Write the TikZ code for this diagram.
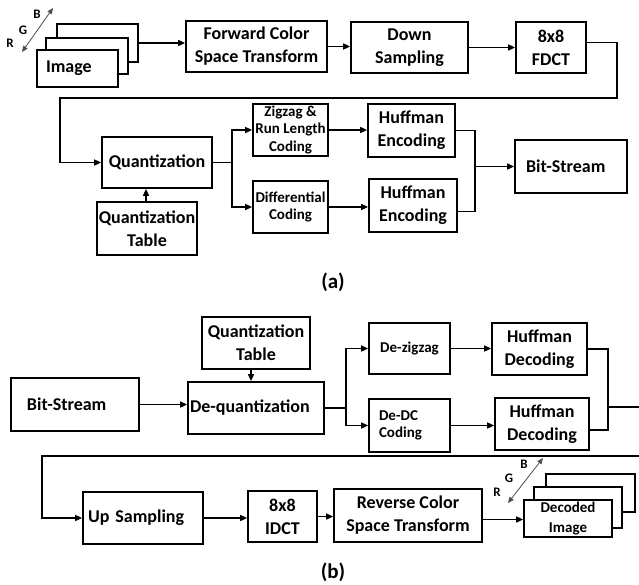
\documentclass[tikz,border=0pt]{standalone}
\usepackage{fontspec}
\setmainfont{Carlito}
\usetikzlibrary{arrows.meta}
\begin{document}
\begin{tikzpicture}[x=1pt,y=-1pt,
  box/.style={draw, line width=1.7pt, fill=white, inner sep=0pt, align=center,
    font=\bfseries\fontsize{18}{23}\selectfont},
  sbox/.style={box, font=\bfseries\fontsize{15}{17.5}\selectfont},
  arr/.style={line width=1.5pt, -{Triangle[length=7pt,width=6pt]}},
  ln/.style={line width=1.5pt},
  rgb/.style={line width=0.8pt, draw=black!70, {Triangle[length=6pt,width=5pt]}-{Triangle[length=6pt,width=5pt]}},
  rgbl/.style={font=\bfseries\fontsize{13}{13}\selectfont, inner sep=0pt},
  capt/.style={font=\bfseries\fontsize{21}{21}\selectfont, inner sep=0pt}
]
\useasboundingbox (0,0) rectangle (639,584);

% ---------------- (a) ----------------
\node[box, minimum width=81pt, minimum height=38pt] (img3) at (97.5,43) {};
\node[box, minimum width=82pt, minimum height=36pt] (img2) at (87,56) {};
\node[box, minimum width=81pt, minimum height=37pt, align=left, text width=63pt, inner xsep=9pt] (img1) at (77.5,68.5) {Image};
\coordinate (ra1) at (22,52); \coordinate (ra2) at (53,8);
\draw[rgb] (ra1) -- (ra2);
\node[rgbl] (lr1) at (10,43) {R};
\node[rgbl] (lg1) at (23,30) {G};
\node[rgbl] (lb1) at (37,14) {B};

\node[box, minimum width=141pt, minimum height=51pt] (fcst) at (256.5,46.5) {Forward Color\\Space Transform};
\node[box, minimum width=117pt, minimum height=51pt] (ds) at (409.5,47.5) {Down\\Sampling};
\node[box, minimum width=70pt, minimum height=51pt] (fdct) at (551,47.5) {8x8\\FDCT};

\node[box, minimum width=110pt, minimum height=51pt] (quant) at (157,162.5) {Quantization};
\node[box, minimum width=100pt, minimum height=53pt] (qt) at (147,228.5) {Quantization\\Table};
\node[sbox, minimum width=75pt, minimum height=52pt] (zz) at (290.5,130) {Zigzag \&\\Run Length\\Coding};
\node[sbox, minimum width=75pt, minimum height=52pt] (diff) at (290.5,207) {Differential\\Coding};
\node[box, minimum width=87pt, minimum height=53pt] (he1) at (411.5,130.5) {Huffman\\Encoding};
\node[box, minimum width=88pt, minimum height=53pt] (he2) at (413,205.5) {Huffman\\Encoding};
\node[box, minimum width=112pt, minimum height=53pt, align=left, text width=90pt, inner xsep=11pt] (bs) at (571,166.5) {Bit-Stream};

\draw[arr] (img3.east) -- (img3.east -| fcst.west);
\draw[arr] (fcst.east) -- (fcst.east -| ds.west);
\draw[arr] (ds.east) -- (ds.east -| fdct.west);
\coordinate (c1) at (617,98); \coordinate (c2) at (60,98);
\draw[arr] ([yshift=5pt]fdct.east) -| (c1) -- (c2) |- (quant.west);
\draw[arr] (qt.north -| 146,0) -- (quant.south -| 146,0);
\coordinate (sp1) at (232,162.5);
\draw[ln] (quant.east) -- (sp1);
\draw[arr] (sp1) |- (zz.west);
\draw[arr] (sp1) |- (diff.west);
\draw[arr] (zz.east) -- (zz.east -| he1.west);
\draw[arr] (diff.east) -- (diff.east -| he2.west);
\coordinate (j1) at (475,166.5);
\draw[ln] (he1.east) -| (j1);
\draw[ln] ([yshift=-6pt]he2.east) -| (j1);
\draw[arr] (j1) -- (bs.west);

\node[capt] (capa) at (333,282) {(a)};

% ---------------- (b) ----------------
\node[box, minimum width=108pt, minimum height=52pt] (qt2) at (256,343) {Quantization\\Table};
\node[box, minimum width=136pt, minimum height=52pt, align=left, text width=132pt, inner xsep=2pt] (dq) at (256,408) {De-quantization};
\node[box, minimum width=128pt, minimum height=53pt, align=left, text width=96pt, inner xsep=16pt] (bs2) at (75,404.5) {Bit-Stream};
\node[sbox, minimum width=81pt, minimum height=51pt] (dz) at (409.5,348.5) {De-zigzag};
\node[sbox, minimum width=81pt, minimum height=53pt, align=left, text width=61pt, inner xsep=10pt] (ddc) at (409.5,425.5) {De-DC\\Coding\\[2pt]};
\node[box, minimum width=95pt, minimum height=52pt] (hd1) at (539.5,349) {Huffman\\Decoding};
\node[box, minimum width=94pt, minimum height=52pt] (hd2) at (542,424) {Huffman\\Decoding};
\node[box, minimum width=120pt, minimum height=52pt, align=left, text width=110pt, inner xsep=5pt] (us) at (143,518) {Up Sampling};
\node[box, minimum width=69pt, minimum height=51pt] (idct) at (282.5,516.5) {8x8\\IDCT};
\node[box, minimum width=148pt, minimum height=53pt] (rcst) at (408,515.5) {Reverse Color\\Space Transform};
\node[box, minimum width=89pt, minimum height=38pt] (di3) at (590.5,493) {};
\node[box, minimum width=88pt, minimum height=41pt] (di2) at (578,507.5) {};
\node[sbox, minimum width=88pt, minimum height=37pt, font=\bfseries\fontsize{15}{19.5}\selectfont] (di1) at (568,518.5) {Decoded\\Image};
\coordinate (rb1) at (508,503); \coordinate (rb2) at (543,458);
\draw[rgb] (rb1) -- (rb2);
\node[rgbl] (lr2) at (497,492) {R};
\node[rgbl] (lg2) at (509,478) {G};
\node[rgbl] (lb2) at (524,464) {B};

\draw[arr] ([xshift=-5pt]qt2.south) -- ([xshift=-5pt]dq.north);
\draw[arr] (bs2.east) -- (bs2.east -| dq.west);
\coordinate (sp2) at (346,408);
\draw[ln] (dq.east) -- (sp2);
\draw[arr] (sp2) |- (dz.west);
\draw[arr] (sp2) |- (ddc.west);
\draw[arr] (dz.east) -- (dz.east -| hd1.west);
\draw[arr] (ddc.east) -- (ddc.east -| hd2.west);
\coordinate (j2) at (608,407);
\draw[ln] (hd1.east) -| (j2);
\draw[ln] ([yshift=-6pt]hd2.east) -| (j2);
\coordinate (e1) at (642,407); \coordinate (e2) at (642,456); \coordinate (e3) at (42,456);
\draw[arr] (j2) -- (e1) -- (e2) -- (e3) |- (us.west);
\draw[arr] (us.east) -- (us.east -| idct.west);
\draw[arr] (idct.east) -- (idct.east -| rcst.west);
\draw[arr] ([yshift=-4pt]rcst.east) -- ([yshift=-4pt]rcst.east -| di1.west);

\node[capt] (capb) at (333,572) {(b)};
\end{tikzpicture}
\end{document}
